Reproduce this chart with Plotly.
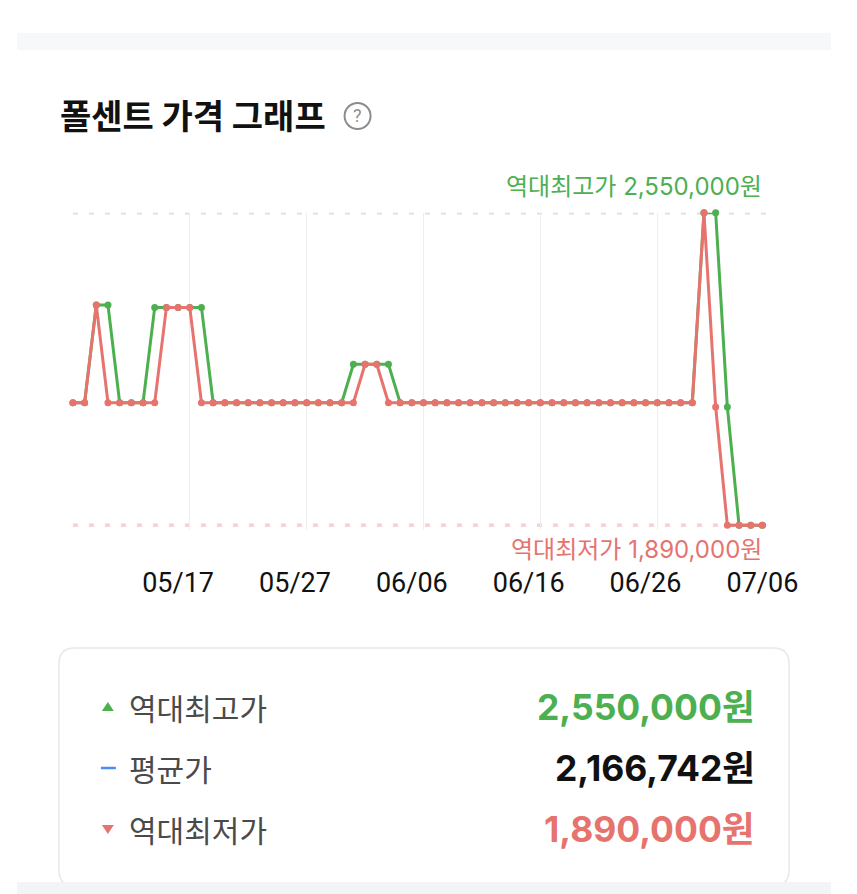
import pandas as pd
import plotly.graph_objects as go

W, H = 857, 894
FIG_W = 880  # the page is captured a bit wider than 857 and squeezed back

# daily prices, 05/08 ~ 07/06
dates = pd.date_range('2024-05-08', '2024-07-06', freq='D')
daily_low = [
    2149000, 2149000, 2355000, 2149000, 2149000, 2149000, 2149000, 2149000, 2350000, 2350000,
    2350000, 2149000, 2149000, 2149000, 2149000, 2149000, 2149000, 2149000, 2149000, 2149000,
    2149000, 2149000, 2149000, 2149000, 2149000, 2230000, 2230000, 2149000, 2149000, 2149000,
    2149000, 2149000, 2149000, 2149000, 2149000, 2149000, 2149000, 2149000, 2149000, 2149000,
    2149000, 2149000, 2149000, 2149000, 2149000, 2149000, 2149000, 2149000, 2149000, 2149000,
    2149000, 2149000, 2149000, 2149000, 2550000, 2140000, 1890000, 1890000, 1890000, 1890000,
]
daily_high = [
    2149000, 2149000, 2355000, 2355000, 2149000, 2149000, 2149000, 2350000, 2350000, 2350000,
    2350000, 2350000, 2149000, 2149000, 2149000, 2149000, 2149000, 2149000, 2149000, 2149000,
    2149000, 2149000, 2149000, 2149000, 2230000, 2230000, 2230000, 2230000, 2149000, 2149000,
    2149000, 2149000, 2149000, 2149000, 2149000, 2149000, 2149000, 2149000, 2149000, 2149000,
    2149000, 2149000, 2149000, 2149000, 2149000, 2149000, 2149000, 2149000, 2149000, 2149000,
    2149000, 2149000, 2149000, 2149000, 2550000, 2550000, 2140000, 1890000, 1890000, 1890000,
]
tick_dates = ['2024-05-17', '2024-05-27', '2024-06-06', '2024-06-16', '2024-06-26', '2024-07-06']

all_time_high = 2550000
average_price = 2166742
all_time_low = 1890000

GREEN = '#4caf50'
RED = '#e6736e'
KR = 'Noto Sans CJK KR'
NUM = 'Inter, Noto Sans CJK KR'


# pixel -> paper helpers (margins are 0, so paper == whole figure)
def px(x):
    return x / W


def py(y):
    return 1 - y / H


def rounded_rect(x0, y0, x1, y1, r):
    pts = [
        ('M', [(x0 + r, y0)]), ('L', [(x1 - r, y0)]), ('Q', [(x1, y0), (x1, y0 + r)]),
        ('L', [(x1, y1 - r)]), ('Q', [(x1, y1), (x1 - r, y1)]), ('L', [(x0 + r, y1)]),
        ('Q', [(x0, y1), (x0, y1 - r)]), ('L', [(x0, y0 + r)]), ('Q', [(x0, y0), (x0 + r, y0)]),
    ]
    path = ''
    for cmd, ps in pts:
        path += cmd + ' ' + ' '.join('%.5f,%.5f' % (px(a), py(b)) for a, b in ps) + ' '
    return path + 'Z'


fig = go.Figure()

fig.add_trace(go.Scatter(
    x=dates, y=daily_high, mode='lines+markers', cliponaxis=False,
    line=dict(color=GREEN, width=3), marker=dict(color=GREEN, size=7),
    hoverinfo='skip',
))
fig.add_trace(go.Scatter(
    x=dates, y=daily_low, mode='lines+markers', cliponaxis=False,
    line=dict(color=RED, width=3), marker=dict(color=RED, size=7),
    hoverinfo='skip',
))

shapes = [
    # top / bottom page bands
    dict(type='rect', xref='paper', yref='paper', x0=px(17), x1=px(832), y0=py(50), y1=py(33),
         fillcolor='#f7f8fa', line_width=0),
    # ? icon
    dict(type='circle', xref='paper', yref='paper', x0=px(345), x1=px(371), y0=py(129), y1=py(103),
         line=dict(color='#8c8c8c', width=2)),
    # high / low dotted lines
    dict(type='line', xref='x domain', yref='y', x0=0, x1=1, y0=all_time_high, y1=all_time_high,
         line=dict(color='#cbe7cd', width=3.5, dash='5px,11px'), layer='below'),
    dict(type='line', xref='x domain', yref='y', x0=0, x1=1, y0=all_time_low, y1=all_time_low,
         line=dict(color='#f7d2d2', width=3.5, dash='5px,11px'), layer='below'),
    # summary card
    dict(type='path', xref='paper', yref='paper', path=rounded_rect(59, 648, 790, 886, 16),
         fillcolor='white', line=dict(color='#e6e8eb', width=1.5)),
    dict(type='rect', xref='paper', yref='paper', x0=px(17), x1=px(832), y0=py(894), y1=py(882),
         fillcolor='#f3f4f6', line_width=0),
    # card markers
    dict(type='path', xref='paper', yref='paper',
         path='M %f,%f L %f,%f L %f,%f Z' % (px(102), py(711), px(114), py(711), px(108), py(702)),
         fillcolor=GREEN, line_width=0),
    dict(type='line', xref='paper', yref='paper', x0=px(101), x1=px(116), y0=py(768), y1=py(768),
         line=dict(color='#4a8cf0', width=2.5)),
    dict(type='path', xref='paper', yref='paper',
         path='M %f,%f L %f,%f L %f,%f Z' % (px(102), py(825), px(114), py(825), px(108), py(834)),
         fillcolor=RED, line_width=0),
]

annotations = [
    dict(text='<b>폴센트 가격 그래프</b>', x=px(58), y=py(115), xanchor='left', yanchor='middle',
         font=dict(family=KR, size=34, color='#111111')),
    dict(text='?', x=px(358), y=py(116), xanchor='center', yanchor='middle',
         font=dict(family='Roboto', size=18, color='#8c8c8c')),
    dict(text='역대최고가 %s원' % format(all_time_high, ','), x=px(765), y=py(186), xanchor='right',
         yanchor='middle', font=dict(family=NUM, size=24, color=GREEN)),
    dict(text='역대최저가 %s원' % format(all_time_low, ','), x=px(765), y=py(549), xanchor='right',
         yanchor='middle', font=dict(family=NUM, size=24, color=RED)),
]

rows = [
    ('역대최고가', all_time_high, GREEN, 707),
    ('평균가', average_price, '#111111', 768),
    ('역대최저가', all_time_low, RED, 829),
]
for label, value, color, y in rows:
    annotations.append(dict(text=label, x=px(127), y=py(y), xanchor='left', yanchor='middle',
                            font=dict(family=KR, size=30, color='#4a4a4a')))
    annotations.append(dict(text='<b>%s원</b>' % format(value, ','), x=px(758), y=py(y),
                            xanchor='right', yanchor='middle',
                            font=dict(family=NUM, size=35.5, color=color)))

for a in annotations:
    a.update(xref='paper', yref='paper', showarrow=False)

pad = (all_time_high - all_time_low) * 0.015

fig.update_layout(
    width=FIG_W, height=H,
    margin=dict(l=0, r=0, t=0, b=0),
    paper_bgcolor='white', plot_bgcolor='white',
    showlegend=False,
    shapes=shapes,
    annotations=annotations,
    xaxis=dict(
        domain=[px(73), px(775)],
        range=['2024-05-08', '2024-07-07'],
        tickvals=tick_dates, tickformat='%m/%d',
        ticks='outside', ticklen=29, tickcolor='rgba(0,0,0,0)',
        tickfont=dict(family='Roboto', size=27, color='#111111'),
        showgrid=False, zeroline=False, showline=False,
        minor=dict(showgrid=True, gridcolor='#eeeeee', gridwidth=1,
                   tick0='2024-05-18', dtick=10 * 86400000),
    ),
    yaxis=dict(
        domain=[py(530), py(212.7)],
        range=[all_time_low - pad, all_time_high],
        showticklabels=False, showgrid=False, zeroline=False, showline=False,
    ),
)

fig.write_html('out.html', config={'displayModeBar': False, 'staticPlot': True},
               post_script="document.body.style.margin='0px';"
                           "document.body.style.overflow='hidden';"
                           "document.documentElement.style.overflow='hidden';")
